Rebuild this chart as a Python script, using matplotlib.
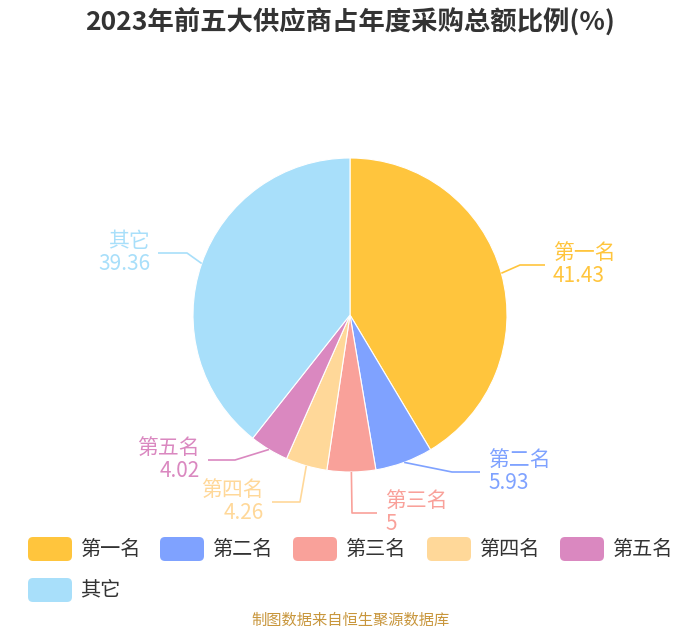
import matplotlib
matplotlib.use('Agg')
import matplotlib.pyplot as plt
from matplotlib.patches import FancyBboxPatch
import numpy as np

plt.rcParams['font.family'] = ['Noto Sans CJK SC', 'DejaVu Sans']

# 数据
names = ['第一名', '第二名', '第三名', '第四名', '第五名', '其它']
values = [41.43, 5.93, 5, 4.26, 4.02, 39.36]
value_labels = ['41.43', '5.93', '5', '4.26', '4.02', '39.36']
colors = ['#FFC53D', '#7FA2FF', '#F9A19A', '#FFD899', '#DA88C0', '#A8DFFA']

# 标签引线拐点 (像素坐标, y 向下) 和水平段方向
elbows = [(520, 265), (452, 472), (352, 513), (300, 502), (235, 460), (187, 253)]
line_len = [25, 28, 25, -28, -27, -29]

H = 630
fig = plt.figure(figsize=(7, 6.3), dpi=100)
ax = fig.add_axes([0, 0, 1, 1])

cx, cy, r = 350, 315, 157
wedges, _ = ax.pie(values, colors=colors, startangle=90, counterclock=False,
                   radius=r, center=(cx, H - cy),
                   wedgeprops=dict(edgecolor='white', linewidth=0.8))
ax.set_xlim(0, 700)
ax.set_ylim(0, H)
ax.set_aspect('equal')
ax.axis('off')

# 引线和标签
for w, name, vl, c, (ex, ey), ll in zip(wedges, names, value_labels, colors, elbows, line_len):
    mid = np.deg2rad((w.theta1 + w.theta2) / 2)
    sx = cx + r * np.cos(mid)
    sy = H - cy + r * np.sin(mid)
    ey = H - ey
    endx = ex + ll
    ax.plot([sx, ex, endx], [sy, ey, ey], color=c, lw=1.2, solid_capstyle='butt')
    if ll > 0:
        tx, ha = endx + 8, 'left'
    else:
        tx, ha = endx - 8, 'right'
    ax.text(tx, ey + 1, name, color=c, fontsize=15, ha=ha, va='bottom')
    ax.text(tx, ey, vl, color=c, fontsize=15, ha=ha, va='top')

# 标题
fig.text(0.5, 1 - 23 / H, '2023年前五大供应商占年度采购总额比例(%)',
         ha='center', va='center', fontsize=19, fontweight='bold', color='#333333')

# 图例
legend_x = [28, 160, 293, 427, 560, 28]
legend_y = [549, 549, 549, 549, 549, 590]
for name, c, lx, ly in zip(names, colors, legend_x, legend_y):
    box = FancyBboxPatch((lx + 3, H - ly - 9), 38, 18,
                         boxstyle='round,pad=3,rounding_size=5',
                         facecolor=c, edgecolor='none')
    ax.add_patch(box)
    ax.text(lx + 52, H - ly, name, fontsize=14.5, color='#333333', va='center', ha='left')

# 数据来源
fig.text(0.5, 1 - 620 / H, '制图数据来自恒生聚源数据库', ha='center', va='center',
         fontsize=11, color='#C8963C')

plt.savefig('out.png', dpi=100)
